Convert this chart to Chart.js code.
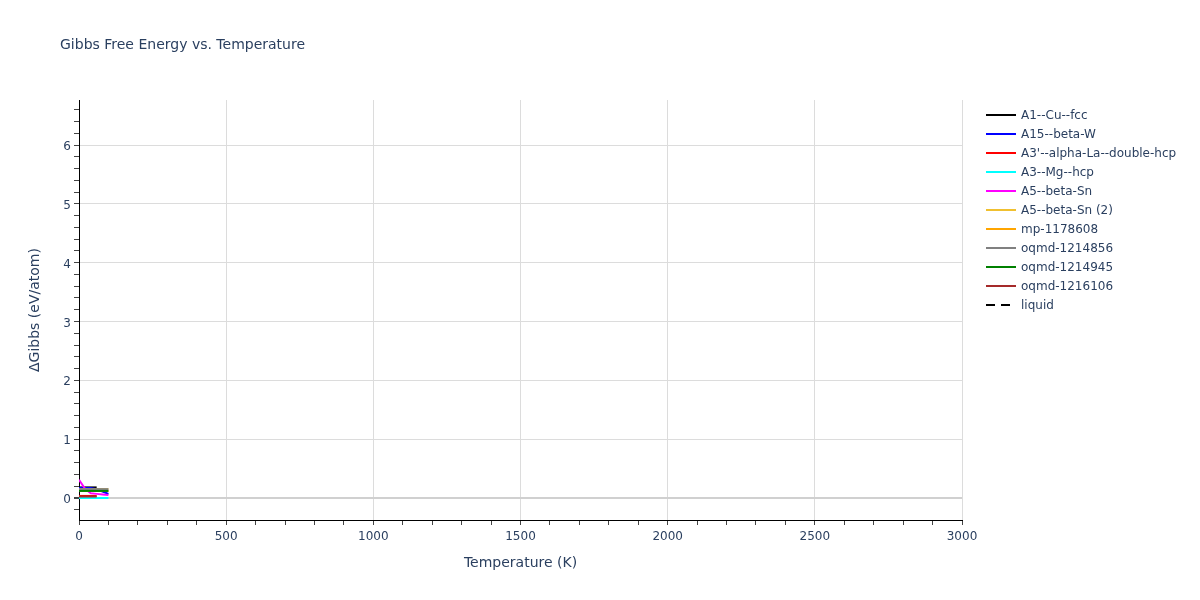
<!DOCTYPE html>
<html>
<head>
<meta charset="UTF-8">
<title>Gibbs Free Energy vs. Temperature</title>
<style>
  body { margin: 0; background: #fff; font-family: 'DejaVu Sans', sans-serif; }
  #wrap { position: relative; width: 1200px; height: 600px; }
  #chartTitle { position: absolute; left: 60px; top: 36px; font-size: 14px; color: #2a3f5f; }
  #legend { position: absolute; left: 986px; top: 105px; font-size: 12px; color: #2a3f5f; }
  .item { height: 19px; display: flex; align-items: center; white-space: nowrap; }
  .item svg { margin-right: 5px; }
</style>
</head>
<body>
<div id="wrap">
  <canvas id="chart" width="1200" height="600"></canvas>
  <div id="chartTitle">Gibbs Free Energy vs. Temperature</div>
  <div id="legend"></div>
</div>
<script src="https://cdn.jsdelivr.net/npm/chart.js"></script>
<script>
// temperatures (K) sampled for the phase curves
const temps = [0, 20, 40, 60, 80, 100];

const phaseNames = ['A1--Cu--fcc', 'A15--beta-W', "A3'--alpha-La--double-hcp", 'A3--Mg--hcp',
  'A5--beta-Sn', 'A5--beta-Sn (2)', 'mp-1178608', 'oqmd-1214856', 'oqmd-1214945', 'oqmd-1216106', 'liquid'];
const phaseColors = ['#000000', '#0000ff', '#ff0000', '#00ffff', '#ff00ff', '#f0c030', '#ffa500',
  '#808080', '#008000', '#a52a2a', '#000000'];

// ΔGibbs (eV/atom) per phase
const cuFcc     = [0.18, 0.18, 0.18, 0.18, null, null];
const betaW     = [0.17, 0.17, 0.17, 0.15, 0.11, 0.07];
const alphaLa   = [0.035, 0.035, 0.035, 0.035, null, null];
const mgHcp     = [0.0, 0.0, 0.0, 0.0, 0.0, 0.0];
const betaSn    = [0.31, 0.16, 0.08, 0.07, 0.06, 0.05];
const betaSn2   = [0.15, 0.15, 0.15, 0.15, 0.15, 0.15];
const mp1178608 = [0.12, 0.12, 0.12, 0.12, 0.12, 0.12];
const oqmd856   = [0.15, 0.15, 0.15, 0.15, 0.15, 0.15];
const oqmd945   = [0.12, 0.12, 0.12, 0.12, 0.12, 0.12];
const oqmd106   = [0.025, 0.025, 0.025, 0.025, null, null];
const liquid    = [];

const series = [cuFcc, betaW, alphaLa, mgHcp, betaSn, betaSn2, mp1178608, oqmd856, oqmd945, oqmd106, liquid];

// axis ticks
const xTickLabels = [0, 500, 1000, 1500, 2000, 2500, 3000];
const yTickLabels = [0, 1, 2, 3, 4, 5, 6];
const xMinorStep = 100;
const yMinorStep = 0.2;

const datasets = series.map((vals, i) => ({
  label: phaseNames[i],
  data: vals.map((v, j) => ({ x: temps[j], y: v })),
  borderColor: phaseColors[i],
  backgroundColor: phaseColors[i],
  borderWidth: 2,
  borderDash: phaseNames[i] === 'liquid' ? [6, 6] : [],
  pointRadius: 0,
  tension: 0,
  spanGaps: false,
  order: series.length - i   // later traces drawn on top
}));

// html legend
const legend = document.getElementById('legend');
phaseNames.forEach((name, i) => {
  const row = document.createElement('div');
  row.className = 'item';
  const dash = name === 'liquid' ? 'stroke-dasharray="9,6"' : '';
  row.innerHTML = '<svg width="30" height="4"><line x1="0" y1="2" x2="30" y2="2" stroke="' + phaseColors[i] +
    '" stroke-width="2" ' + dash + '/></svg><span>' + name + '</span>';
  legend.appendChild(row);
});

const isMajorX = v => xTickLabels.includes(Math.round(v));
const isMajorY = v => yTickLabels.some(t => Math.abs(t - v) < 1e-6);
const tickFont = { family: "'DejaVu Sans', sans-serif", size: 12 };
const titleFont = { family: "'DejaVu Sans', sans-serif", size: 14 };

new Chart(document.getElementById('chart'), {
  type: 'line',
  data: { datasets: datasets },
  options: {
    responsive: false,
    animation: false,
    layout: { padding: { top: 100, right: 238, bottom: 0, left: 0 } },
    plugins: { legend: { display: false }, tooltip: { enabled: false } },
    scales: {
      x: {
        type: 'linear',
        min: 0,
        max: 3000,
        afterBuildTicks: s => {
          const t = [];
          for (let v = 0; v <= 3000; v += xMinorStep) t.push({ value: v });
          s.ticks = t;
        },
        afterFit: s => { s.height = 80; },
        border: { color: '#000', width: 1 },
        grid: {
          color: c => (c.tick && isMajorX(c.tick.value) && c.tick.value !== 0) ? '#dcdcdc' : 'rgba(0,0,0,0)',
          tickColor: '#444',
          tickLength: 5,
          lineWidth: 1
        },
        ticks: {
          autoSkip: false,
          maxRotation: 0,
          padding: 5,
          color: '#2a3f5f',
          font: tickFont,
          callback: v => isMajorX(v) ? String(v) : ''
        },
        title: {
          display: true,
          text: 'Temperature (K)',
          color: '#2a3f5f',
          font: titleFont,
          padding: { top: 0, bottom: 28 }
        }
      },
      y: {
        type: 'linear',
        min: -0.374,
        max: 6.765,
        afterBuildTicks: s => {
          const t = [];
          for (let k = -1; k <= 33; k++) t.push({ value: Math.round(k * yMinorStep * 10) / 10 });
          s.ticks = t;
        },
        afterFit: s => { s.width = 79; },
        border: { color: '#000', width: 1 },
        grid: {
          color: c => {
            if (!c.tick) return 'rgba(0,0,0,0)';
            if (c.tick.value === 0) return '#d0d0d0';
            return isMajorY(c.tick.value) ? '#dcdcdc' : 'rgba(0,0,0,0)';
          },
          lineWidth: c => (c.tick && c.tick.value === 0) ? 2 : 1,
          tickColor: '#444',
          tickLength: 5
        },
        ticks: {
          autoSkip: false,
          padding: 3,
          labelOffset: 2,
          color: '#2a3f5f',
          font: tickFont,
          callback: v => isMajorY(v) ? String(Math.round(v)) : ''
        },
        title: {
          display: true,
          text: 'ΔGibbs (eV/atom)',
          color: '#2a3f5f',
          font: titleFont,
          padding: { top: 27, bottom: 0 }
        }
      }
    }
  }
});
</script>
</body>
</html>
